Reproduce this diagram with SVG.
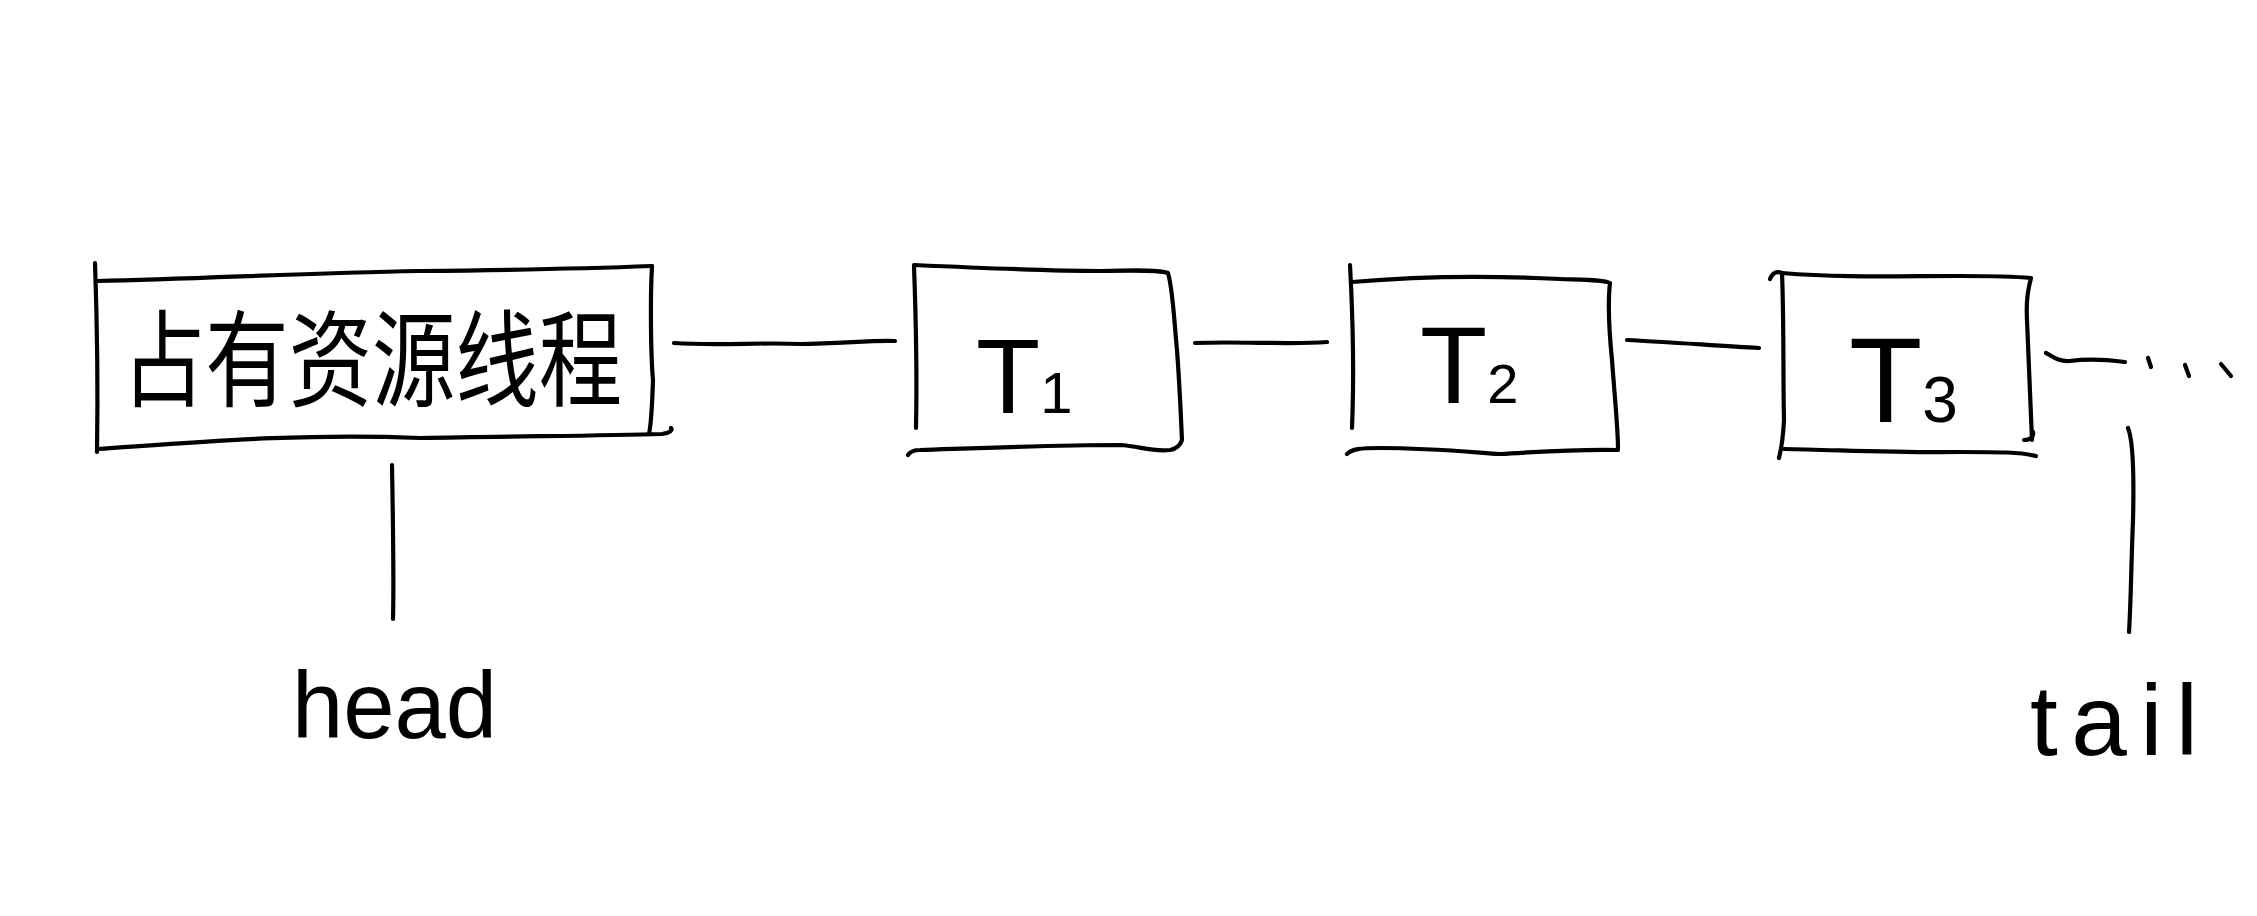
<svg xmlns="http://www.w3.org/2000/svg" width="2257" height="916" viewBox="0 0 2257 916">
<style>
.s{fill:none;stroke:#000;stroke-width:4.2;stroke-linecap:round;stroke-linejoin:round}
.t{font-family:"Liberation Sans",Arial,sans-serif;fill:#000}
.c{font-family:"Noto Sans CJK SC","Noto Sans CJK TC",sans-serif;fill:#000}
</style>
<rect width="2257" height="916" fill="#fff"/>
<g id="node-owner">
<path class="s" d="M95,263 C97,320 98,390 97,452"/>
<path class="s" d="M97,281 C200,279 300,273 420,271 C520,270 600,268 652,266"/>
<path class="s" d="M652,266 C650,300 651,360 653,380 C652,410 651,425 649,434"/>
<path class="s" d="M97,449 C200,442 300,433 420,438 C520,436 600,436 662,434 C670,433 673,430 671,428"/>
<text class="c" x="122" y="398" font-size="105" textLength="500" lengthAdjust="spacingAndGlyphs">占有资源线程</text>
</g>
<g id="node-t1">
<path class="s" d="M914,266 C916,320 917,380 916,428"/>
<path class="s" d="M914,265 C980,268 1050,271 1100,271 C1140,270 1160,270 1168,273 C1173,290 1174,320 1177,350 C1180,390 1181,420 1182,440 C1180,446 1176,449 1170,450 C1150,452 1140,446 1120,445 C1050,445 980,448 920,450 C914,450 910,452 908,455"/>
<text class="t" x="976" y="413" font-size="105">T<tspan font-size="58">1</tspan></text>
</g>
<g id="node-t2">
<path class="s" d="M1350,265 C1353,320 1354,380 1352,428"/>
<path class="s" d="M1352,282 C1420,276 1500,276 1560,279 C1590,280 1605,280 1610,283 C1608,300 1609,330 1612,360 C1615,400 1618,430 1618,448"/>
<path class="s" d="M1347,454 C1352,449 1360,448 1380,448 C1430,448 1470,452 1500,454 C1540,452 1570,449 1618,450"/>
<text class="t" x="1420" y="403" font-size="110">T<tspan font-size="56">2</tspan></text>
</g>
<g id="node-t3">
<path class="s" d="M1770,279 C1773,272 1777,271 1782,273 C1784,320 1783,380 1784,420 C1783,440 1781,450 1779,458"/>
<path class="s" d="M1782,273 C1840,278 1900,276 1960,276 C2000,276 2020,277 2031,278 C2028,290 2026,300 2027,320 C2029,360 2030,400 2032,440"/>
<path class="s" d="M1784,449 C1840,450 1900,453 1960,452 C2000,452 2020,452 2036,456"/>
<path class="s" d="M2024,440 C2030,440 2034,437 2033,432"/>
<text class="t" x="1849" y="422" font-size="120">T<tspan font-size="64">3</tspan></text>
</g>
<g id="connectors">
<path class="s" d="M674,343 C720,346 760,342 800,344 C840,344 870,340 895,341"/>
<path class="s" d="M1195,343 C1240,341 1290,345 1327,342"/>
<path class="s" d="M1627,340 C1670,342 1720,346 1759,348"/>
<path class="s" d="M2046,353 C2052,356 2058,362 2070,361 C2090,358 2110,360 2125,362"/>
<path class="s" d="M2148,358 l3,9 M2185,365 l4,11 M2221,364 l10,12"/>
<path class="s" d="M392,465 C393,520 394,580 393,619"/>
<path class="s" d="M2128,428 C2133,440 2134,480 2133,520 C2131,570 2131,600 2129,632"/>
</g>
<g id="label-head">
<text class="t" x="292" y="738" font-size="94" textLength="205" lengthAdjust="spacingAndGlyphs">head</text>
</g>
<g id="label-tail">
<text class="t" x="2030" y="755" font-size="100" textLength="168" lengthAdjust="spacing">tail</text>
</g>
</svg>
